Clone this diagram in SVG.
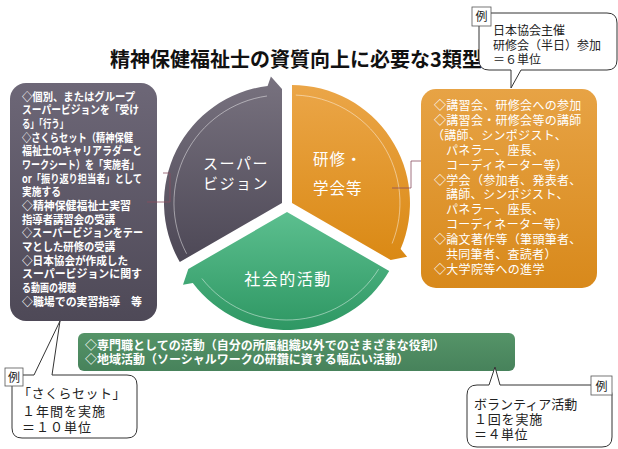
<svg xmlns="http://www.w3.org/2000/svg" width="618" height="449" viewBox="0 0 618 449">
<style>
text{font-family:"Noto Sans CJK JP","Noto Sans",sans-serif;}
.w{fill:#fff;}
.lb{font-size:11.5px;font-weight:bold;fill:#fff;}
.ob{font-size:12px;fill:#fff;letter-spacing:0.3px;}
.gb{font-size:12px;font-weight:bold;fill:#fff;}
.ct{font-size:13px;fill:#222;}
.co{fill:#fff;stroke:#333;stroke-width:1;}
.rei{fill:#fff;stroke:#555;stroke-width:0.8;}
.hl{fill:none;stroke:#fff;stroke-opacity:0.45;stroke-width:1;}
.cn{fill:none;stroke:#8b4f60;stroke-width:0.8;}
</style>
<defs>
<linearGradient id="gGray" x1="0" y1="0" x2="0" y2="1"><stop offset="0" stop-color="#78727f"/><stop offset="1" stop-color="#4d4856"/></linearGradient>
<linearGradient id="gOr" x1="0" y1="0" x2="0" y2="1"><stop offset="0" stop-color="#eba648"/><stop offset="1" stop-color="#da8914"/></linearGradient>
<linearGradient id="gGr" x1="0" y1="0" x2="0" y2="1"><stop offset="0" stop-color="#5cbf8f"/><stop offset="1" stop-color="#2e9763"/></linearGradient>
<linearGradient id="gBoxGray" x1="0" y1="0" x2="0" y2="1"><stop offset="0" stop-color="#6d6777"/><stop offset="1" stop-color="#4e4957"/></linearGradient>
<linearGradient id="gBoxOr" x1="0" y1="0" x2="0" y2="1"><stop offset="0" stop-color="#e7a345"/><stop offset="1" stop-color="#d8891b"/></linearGradient>
<linearGradient id="gBoxGr" x1="0" y1="0" x2="0" y2="1"><stop offset="0" stop-color="#559468"/><stop offset="1" stop-color="#47825b"/></linearGradient>
</defs>

<text x="296" y="67" text-anchor="middle" style="font-size:20px;font-weight:bold;fill:#111;">精神保健福祉士の資質向上に必要な3類型</text>

<g id="seg-supervision">
<path d="M282,203 L179.8,262 A118,118 0 0 1 267.6,85.9 L270.9,76.5 L282,89 Z" fill="url(#gGray)"/>
<path class="hl" d="M186.6,253.7 A108,108 0 0 1 267,96"/>
<text class="w" x="236" y="169" text-anchor="middle" style="font-size:15px;letter-spacing:1.5px;">スーパー</text>
<text class="w" x="236" y="189" text-anchor="middle" style="font-size:15px;letter-spacing:1.5px;">ビジョン</text>
</g>

<g id="seg-training">
<path d="M292,203 L292,85 A118,118 0 0 1 400.6,249.1 L407.1,256.7 L390.7,260 Z" fill="url(#gOr)"/>
<path class="hl" d="M295.8,95.1 A108,108 0 0 1 392.1,243.5"/>
<text class="w" x="313" y="165" style="font-size:15.5px;letter-spacing:1px;">研修・</text>
<text class="w" x="313" y="194" style="font-size:15.5px;letter-spacing:1px;">学会等</text>
</g>

<g id="seg-social">
<path d="M287,212 L389.2,271 A118,118 0 0 1 192.8,283 L183,284.8 L188.3,269 Z" fill="url(#gGr)"/>
<path class="hl" d="M378.6,269.2 A108,108 0 0 1 201.9,278.5"/>
<text class="w" x="288" y="285" text-anchor="middle" style="font-size:16px;letter-spacing:1.5px;">社会的活動</text>
</g>

<g id="box-supervision">
<rect x="10" y="83" width="147" height="238" rx="16" fill="url(#gBoxGray)"/>
<text class="lb" x="22" y="100.5" textLength="113" lengthAdjust="spacingAndGlyphs">◇個別、またはグループ</text>
<text class="lb" x="22" y="114.2" textLength="117" lengthAdjust="spacingAndGlyphs">スーパービジョンを「受け</text>
<text class="lb" x="22" y="127.8" textLength="46" lengthAdjust="spacingAndGlyphs">る」「行う」</text>
<text class="lb" x="22" y="141.5" textLength="111" lengthAdjust="spacingAndGlyphs">◇さくらセット（精神保健</text>
<text class="lb" x="22" y="155.2" textLength="120" lengthAdjust="spacingAndGlyphs">福祉士のキャリアラダーと</text>
<text class="lb" x="22" y="168.9" textLength="117" lengthAdjust="spacingAndGlyphs">ワークシート）を「実施者」</text>
<text class="lb" x="22" y="182.5" textLength="120" lengthAdjust="spacingAndGlyphs">or「振り返り担当者」として</text>
<text class="lb" x="22" y="196.2" textLength="39" lengthAdjust="spacingAndGlyphs">実施する</text>
<text class="lb" x="22" y="209.9" textLength="109" lengthAdjust="spacingAndGlyphs">◇精神保健福祉士実習</text>
<text class="lb" x="22" y="223.5" textLength="93" lengthAdjust="spacingAndGlyphs">指導者講習会の受講</text>
<text class="lb" x="22" y="237.2" textLength="121" lengthAdjust="spacingAndGlyphs">◇スーパービジョンをテー</text>
<text class="lb" x="22" y="250.9" textLength="93" lengthAdjust="spacingAndGlyphs">マとした研修の受講</text>
<text class="lb" x="22" y="264.5" textLength="106" lengthAdjust="spacingAndGlyphs">◇日本協会が作成した</text>
<text class="lb" x="22" y="278.2" textLength="120" lengthAdjust="spacingAndGlyphs">スーパービジョンに関す</text>
<text class="lb" x="22" y="291.9" textLength="54" lengthAdjust="spacingAndGlyphs">る動画の視聴</text>
<text class="lb" x="22" y="305.5" textLength="120" lengthAdjust="spacingAndGlyphs">◇職場での実習指導　等</text>
</g>

<g id="box-training">
<rect x="421" y="89" width="176" height="199" rx="15" fill="url(#gBoxOr)"/>
<text class="ob" x="434" y="110">◇講習会、研修会への参加</text>
<text class="ob" x="434" y="124.9">◇講習会・研修会等の講師</text>
<text class="ob" x="432" y="139.8">（講師、シンポジスト、</text>
<text class="ob" x="446" y="154.7">パネラー、座長、</text>
<text class="ob" x="446" y="169.6">コーディネーター等）</text>
<text class="ob" x="434" y="184.5">◇学会（参加者、発表者、</text>
<text class="ob" x="446" y="199.4">講師、シンポジスト、</text>
<text class="ob" x="446" y="214.3">パネラー、座長、</text>
<text class="ob" x="446" y="229.2">コーディネーター等）</text>
<text class="ob" x="434" y="244.1">◇論文著作等（筆頭筆者、</text>
<text class="ob" x="446" y="259">共同筆者、査読者）</text>
<text class="ob" x="434" y="273.9">◇大学院等への進学</text>
</g>

<g id="box-social">
<rect x="78" y="333" width="437" height="38" rx="6" fill="url(#gBoxGr)"/>
<text class="gb" x="85" y="350">◇専門職としての活動（自分の所属組織以外でのさまざまな役割）</text>
<text class="gb" x="85" y="364">◇地域活動（ソーシャルワークの研鑽に資する幅広い活動）</text>
</g>

<g id="connectors">
<path class="cn" d="M147,202 H170 V173 H163"/>
<path class="cn" d="M421,161 H411 V188 H392"/>
</g>

<g id="callout-training">
<path class="co" d="M489,13 H607 Q617,13 617,23 V60 Q617,70 607,70 H521 L511,88 L511,70 H489 Q479,70 479,60 V23 Q479,13 489,13 Z"/>
<rect class="rei" x="472" y="7" width="19" height="19"/>
<text x="481.5" y="21" text-anchor="middle" style="font-size:12px;fill:#222;">例</text>
<text class="ct" x="493" y="35" style="font-size:12px;">日本協会主催</text>
<text class="ct" x="493" y="49.5" style="font-size:12px;">研修会（半日）参加</text>
<text class="ct" x="493" y="64" style="font-size:12px;">＝６単位</text>
</g>

<g id="callout-supervision">
<path class="co" d="M22,375 H34 L60,321 L52,375 H127 Q137,375 137,385 V428 Q137,438 127,438 H22 Q12,438 12,428 V385 Q12,375 22,375 Z"/>
<rect class="rei" x="5" y="368" width="18" height="18"/>
<text x="14" y="381.5" text-anchor="middle" style="font-size:12px;fill:#222;">例</text>
<text class="ct" x="18" y="398" style="letter-spacing:0.5px;">「さくらセット」</text>
<text class="ct" x="22" y="415.5" style="letter-spacing:1px;">１年間を実施</text>
<text class="ct" x="22" y="431.5" style="letter-spacing:1px;">＝１０単位</text>
</g>

<g id="callout-social">
<path class="co" d="M477,385 H489 L495,367 L500,385 H602 Q612,385 612,395 V437 Q612,447 602,447 H477 Q467,447 467,437 V395 Q467,385 477,385 Z"/>
<rect class="rei" x="591" y="376" width="21" height="19"/>
<text x="601.5" y="390.5" text-anchor="middle" style="font-size:12px;fill:#222;">例</text>
<text class="ct" x="474" y="409">ボランティア活動</text>
<text class="ct" x="474" y="424" style="letter-spacing:0.8px;">１回を実施</text>
<text class="ct" x="474" y="438.5" style="letter-spacing:0.5px;">＝４単位</text>
</g>
</svg>
